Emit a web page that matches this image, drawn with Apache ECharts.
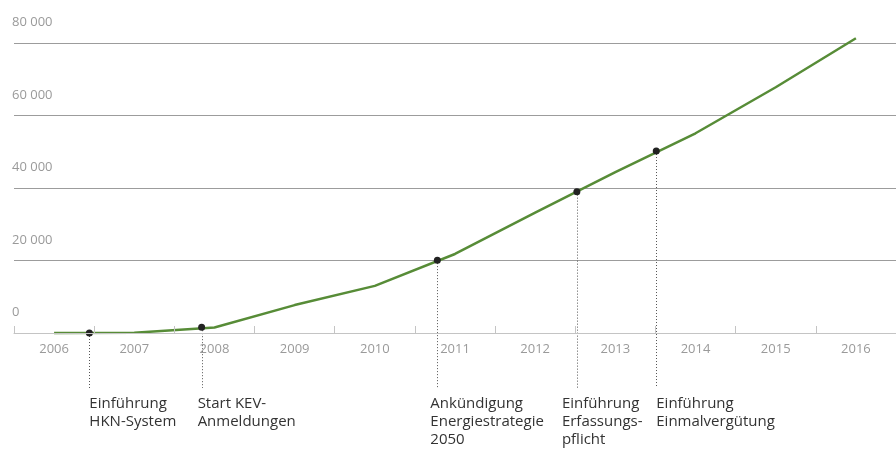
<!DOCTYPE html>
<html>
<head>
<meta charset="utf-8">
<script src="https://cdn.jsdelivr.net/npm/echarts@6/dist/echarts.min.js"></script>
<style>
  html, body { margin: 0; padding: 0; background: #fff; }
  #chart { width: 896px; height: 450px; }
</style>
</head>
<body>
<div id="chart"></div>
<script>
// Jahreswerte
var years = [2006, 2007, 2008, 2009, 2010, 2011, 2012, 2013, 2014, 2015, 2016];
var values = [0, 100, 1500, 7700, 13000, 21800, 33200, 44400, 55100, 67800, 81300];

// Ereignisse (Zeitpunkt als Dezimaljahr, Wert auf der Kurve)
var eventYears = [2006.44, 2007.84, 2010.78, 2012.52, 2013.51];
var eventValues = [0, 1600, 20100, 39000, 50200];
var eventTexts = [
    'Einführung\nHKN-System',
    'Start KEV-\nAnmeldungen',
    'Ankündigung\nEnergiestrategie\n2050',
    'Einführung\nErfassungs-\npflicht',
    'Einführung\nEinmalvergütung'
];

var yTicks = [0, 20000, 40000, 60000, 80000];
var xTickBounds = [2005.5, 2006.5, 2007.5, 2008.5, 2009.5, 2010.5, 2011.5, 2012.5, 2013.5, 2014.5, 2015.5, 2016.5];

// horizontale Verschiebung der Beschriftungen (px)
var eventLabelShift = [0, -4, -7, -15, 0];

function drawChart(id) {
    var chart = echarts.init(document.getElementById(id));

    var lineData = years.map(function (y, i) { return [y, values[i]]; });
    var eventData = eventYears.map(function (y, i) { return [y, eventValues[i], i]; });

    var option = {
        animation: false,
        textStyle: { fontFamily: '"Open Sans", sans-serif' },
        grid: { left: 14, right: -2, top: 43, bottom: 117 },
        xAxis: {
            type: 'value',
            min: 2005.5,
            max: 2016.5,
            z: 5,
            splitLine: { show: false },
            axisLine: { show: true, lineStyle: { color: '#c4c4c4', width: 1 } },
            axisTick: {
                show: true,
                inside: true,
                length: 7,
                customValues: xTickBounds,
                lineStyle: { color: '#c4c4c4' }
            },
            axisLabel: {
                customValues: years,
                color: '#9a9a9a',
                fontSize: 13,
                margin: 10,
                formatter: function (v) { return String(v); }
            }
        },
        yAxis: {
            type: 'value',
            min: 0,
            max: 80000,
            interval: 20000,
            axisLine: { show: false },
            axisTick: { show: false },
            splitLine: { lineStyle: { color: '#9c9c9c', width: 1 } },
            axisLabel: {
                inside: true,
                margin: -2,
                color: '#9a9a9a',
                fontSize: 13,
                verticalAlign: 'bottom',
                padding: [0, 0, 14, 0],
                formatter: function (v) {
                    return String(v).replace(/\B(?=(\d{3})+(?!\d))/g, ' ');
                }
            }
        },
        series: [
            {
                name: 'Anlagen',
                type: 'line',
                data: lineData,
                symbol: 'none',
                clip: false,
                lineStyle: { color: '#578c37', width: 2.5 },
                z: 3
            },
            {
                name: 'Ereignisse',
                type: 'custom',
                data: eventData,
                clip: false,
                z: 4,
                encode: { x: 0, y: 1 },
                renderItem: function (params, api) {
                    var p = api.coord([api.value(0), api.value(1)]);
                    var base = api.coord([api.value(0), 0]);
                    var idx = api.value(2);
                    var x = Math.round(p[0]) + 0.5;
                    return {
                        type: 'group',
                        children: [
                            {
                                type: 'line',
                                shape: { x1: x, y1: p[1], x2: x, y2: base[1] + 55 },
                                style: { stroke: '#555', lineWidth: 1, lineDash: [1, 2] }
                            },
                            {
                                type: 'circle',
                                shape: { cx: p[0], cy: p[1], r: 3.5 },
                                style: { fill: '#222' }
                            },
                            {
                                type: 'text',
                                x: p[0] + eventLabelShift[idx],
                                y: base[1] + 62,
                                style: {
                                    text: eventTexts[idx],
                                    fill: '#333',
                                    fontSize: 15,
                                    lineHeight: 18,
                                    fontFamily: '"Open Sans", sans-serif',
                                    align: 'left',
                                    verticalAlign: 'top'
                                }
                            }
                        ]
                    };
                }
            }
        ]
    };

    chart.setOption(option);
    return chart;
}

drawChart('chart');
</script>
</body>
</html>
